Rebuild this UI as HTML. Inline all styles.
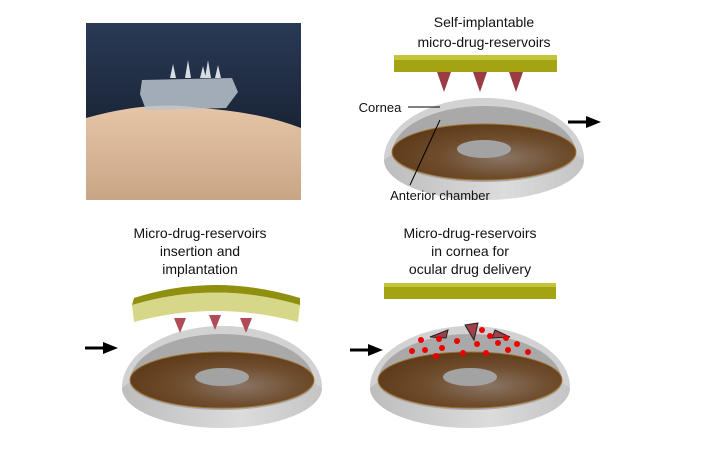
<!DOCTYPE html>
<html><head><meta charset="utf-8"><style>
body{margin:0;background:#fff;}
svg{display:block}
text{font-family:"Liberation Sans",sans-serif;font-size:14px;fill:#111;text-anchor:middle}
</style></head><body>
<svg width="716" height="461" viewBox="0 0 716 461" xmlns="http://www.w3.org/2000/svg">
<defs>
<linearGradient id="sky" x1="0" y1="0" x2="0" y2="1"><stop offset="0" stop-color="#2a3a55"/><stop offset="1" stop-color="#0e1522"/></linearGradient>
<linearGradient id="skin" x1="0" y1="0" x2="0" y2="1"><stop offset="0" stop-color="#e6c6a8"/><stop offset="1" stop-color="#c9a585"/></linearGradient>
<radialGradient id="brown" cx="0.6" cy="0.6" r="0.7"><stop offset="0" stop-color="#8a7565"/><stop offset="0.5" stop-color="#6e4c2c"/><stop offset="1" stop-color="#5a3816"/></radialGradient>
<linearGradient id="base" x1="0" y1="0" x2="1" y2="0"><stop offset="0" stop-color="#bdbdbd"/><stop offset="0.6" stop-color="#dcdcdc"/><stop offset="1" stop-color="#c4c4c4"/></linearGradient>
<g id="dome">
 <path d="M-100,8 A100,40 0 0 0 100,8 A100,62 0 0 0 -100,8Z" fill="url(#base)"/>
 <path d="M-100,8 A100,62 0 0 1 100,8 L92,2 A92,48 0 0 0 -92,2Z" fill="#d2d2d2"/>
 <path d="M-92,2 A92,48 0 0 1 92,2 A92,28 0 0 1 -92,2Z" fill="#a9a9a9"/>
 <ellipse cx="0" cy="0" rx="92" ry="28" fill="url(#brown)" stroke="#a07030" stroke-width="1"/>
 <ellipse cx="0" cy="-3" rx="27" ry="9" fill="#a3a3a3"/>
</g>
<g id="arrow"><line x1="0" y1="0" x2="22" y2="0" stroke="#000" stroke-width="3"/><path d="M18,-6 L33,0 L18,6Z" fill="#000"/></g>
</defs>

<rect x="86" y="23" width="215" height="177" fill="url(#sky)"/>
<path d="M86,118 Q150,100 200,108 Q260,112 301,128 L301,200 L86,200Z" fill="url(#skin)"/>
<path d="M142,80 L232,78 L238,92 L226,108 L146,110 L140,94Z" fill="#b9c3cc" opacity="0.85"/>
<path d="M170,78 l3,-14 l3,14 M185,78 l3,-18 l3,18 M200,78 l3,-12 l3,12 M205,78 l3,-18 l3,18 M215,78 l3,-13 l3,13" fill="#d8dde3"/>

<text x="484" y="27">Self-implantable</text>
<text x="484" y="47">micro-drug-reservoirs</text>
<rect x="394" y="55" width="163" height="17" fill="#a3a313"/>
<rect x="394" y="55" width="163" height="5" fill="#c4c43a"/>
<path d="M437,72 L451,72 L444,92Z M473,72 L487,72 L480,92Z M509,72 L523,72 L516,92Z" fill="#9a3c44"/>
<use href="#dome" transform="translate(484,152)"/>
<line x1="408" y1="107" x2="440" y2="107" stroke="#000"/>
<line x1="440" y1="120" x2="410" y2="185" stroke="#000"/>
<text x="380" y="112" style="font-size:13px">Cornea</text>
<text x="440" y="200" style="font-size:13px">Anterior chamber</text>
<use href="#arrow" transform="translate(568,122)"/>

<text x="200" y="238">Micro-drug-reservoirs</text>
<text x="200" y="256">insertion and</text>
<text x="200" y="274">implantation</text>
<use href="#dome" transform="translate(222,380)"/>
<path d="M174,318 L186,318 L180,333Z M209,315 L221,315 L215,330Z M240,318 L252,318 L246,333Z" fill="#b04c58"/>
<path d="M132,305 Q215,280 300,305 L298,322 Q215,300 134,322Z" fill="#d7d78a"/>
<path d="M132,305 Q215,280 300,305 L300,298 Q215,272 134,298Z" fill="#8f8f10"/>
<use href="#arrow" transform="translate(85,348)"/>

<text x="470" y="238">Micro-drug-reservoirs</text>
<text x="470" y="256">in cornea for</text>
<text x="470" y="274">ocular drug delivery</text>
<rect x="384" y="283" width="172" height="16" fill="#a3a313"/>
<rect x="384" y="283" width="172" height="4" fill="#c4c43a"/>
<use href="#dome" transform="translate(470,380)"/>
<path d="M430,337 L448,330 L446,338Z M465,325 L478,323 L474,340Z M495,330 L510,337 L492,338Z" fill="#a0404a" stroke="#222" stroke-width="1"/>
<g fill="#e00">
<circle cx="421" cy="340" r="3"/><circle cx="439" cy="339" r="3"/><circle cx="457" cy="341" r="3"/><circle cx="482" cy="330" r="3"/><circle cx="490" cy="336" r="3"/><circle cx="506" cy="338" r="3"/><circle cx="517" cy="344" r="3"/>
<circle cx="412" cy="351" r="3"/><circle cx="425" cy="350" r="3"/><circle cx="442" cy="348" r="3"/><circle cx="477" cy="344" r="3"/><circle cx="498" cy="343" r="3"/><circle cx="508" cy="350" r="3"/><circle cx="528" cy="352" r="3"/>
<circle cx="436" cy="356" r="3"/><circle cx="463" cy="353" r="3"/><circle cx="486" cy="353" r="3"/>
</g>
<use href="#arrow" transform="translate(350,350)"/>
</svg>
</body></html>
